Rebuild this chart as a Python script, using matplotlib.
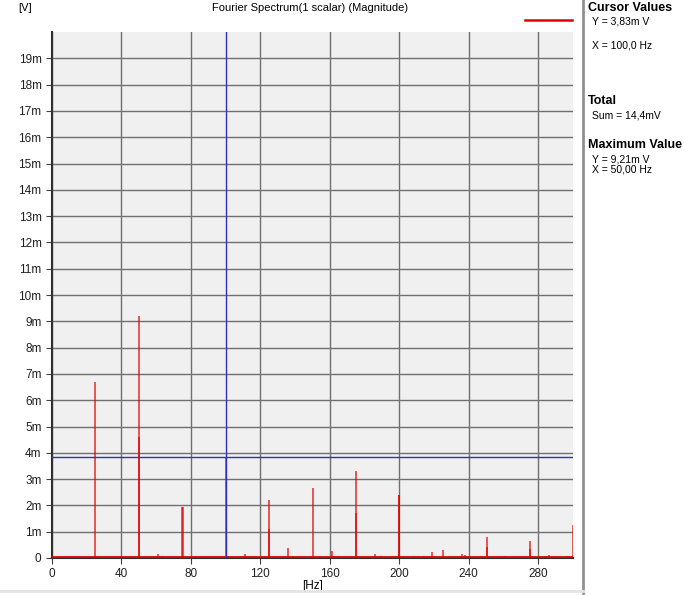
import matplotlib.pyplot as plt
from matplotlib.lines import Line2D
import numpy as np

plt.rcParams['font.family'] = ['Liberation Sans', 'DejaVu Sans']

# spectrum peaks: frequency [Hz], magnitude [mV]
freqs = [25.0, 40.0, 50.0, 50.0, 61.0, 63.5, 75.0, 75.3, 86.0, 100.0,
         111.0, 125.0, 125.0, 135.7, 139.0, 150.0, 161.0, 164.5,
         175.0, 175.0, 186.0, 189.3, 196.6, 200.0, 200.0, 208.4, 210.7,
         214.0, 218.6, 225.0, 236.0, 238.0, 247.0, 250.4, 250.4, 260.8,
         264.7, 275.0, 275.0, 286.0, 296.5, 300.0]
mags = [6.70, 0.06, 9.21, 4.60, 0.17, 0.08, 1.93, 1.93, 0.04, 3.83,
        0.15, 2.22, 1.10, 0.38, 0.07, 2.65, 0.27, 0.08,
        3.32, 1.70, 0.15, 0.06, 0.04, 2.40, 2.40, 0.06, 0.08,
        0.06, 0.23, 0.30, 0.15, 0.12, 0.06, 0.78, 0.40, 0.06,
        0.05, 0.65, 0.35, 0.12, 0.08, 1.25]

cursor_x = 100.0
cursor_y = 3.83

yticks = list(range(0, 20))
ytick_labels = ["0"] + [f"{v}m" for v in range(1, 20)]
xticks = [0, 40, 80, 120, 160, 200, 240, 280]

fig = plt.figure(figsize=(6.84, 5.96), dpi=100)
ax = fig.add_axes([52 / 684, 1 - 558 / 596, 521 / 684, 526 / 596])
ax.set_facecolor('#f0f0f0')

ax.set_xlim(0, 300)
ax.set_ylim(0, 20)
ax.set_xticks(xticks)
ax.set_yticks(yticks)
ax.set_yticklabels(ytick_labels)
ax.tick_params(labelsize=8.5, length=4, color='#404040', labelcolor='#202020')
ax.grid(True, color='#707070', linewidth=1.0)
ax.set_axisbelow(True)

for side in ['top', 'right']:
    ax.spines[side].set_visible(False)
ax.spines['left'].set_color('#303030')
ax.spines['left'].set_linewidth(1.5)
ax.spines['bottom'].set_color('#303030')
ax.spines['bottom'].set_linewidth(1.5)

# spectrum
ax.vlines(freqs, 0, mags, colors='#e00000', linewidth=1.2, alpha=0.75, zorder=3)
ax.plot([0, 300], [0.03, 0.03], color='#e00000', linewidth=2, zorder=3)

# cursor
ax.axvline(cursor_x, color='#3030c0', linewidth=1.0, zorder=4)
ax.axhline(cursor_y, color='#3030c0', linewidth=1.0, zorder=4)

ax.set_xlabel('[Hz]', fontsize=8.5, labelpad=0)
fig.text(18 / 684, 1 - 8 / 596, '[V]', fontsize=8, va='center', ha='left')
fig.text(310 / 684, 1 - 8 / 596, 'Fourier Spectrum(1 scalar) (Magnitude)',
         fontsize=8, va='center', ha='center')

# legend line
fig.add_artist(Line2D([525 / 684, 572 / 684], [1 - 20 / 596, 1 - 20 / 596],
                      color='#e00000', linewidth=1.8))

# right panel separator and bottom strip
fig.add_artist(Line2D([583 / 684, 583 / 684], [0.005, 1], color='#909090', linewidth=2))
fig.add_artist(Line2D([0, 583 / 684], [1 - 591 / 596, 1 - 591 / 596], color='#e4e4e4', linewidth=2))

panel = [
    (8, 'Cursor Values', True, 588),
    (21, 'Y = 3,83m V', False, 592),
    (46, 'X = 100,0 Hz', False, 592),
    (101, 'Total', True, 588),
    (115, 'Sum = 14,4mV', False, 592),
    (145, 'Maximum Value', True, 588),
    (159, 'Y = 9,21m V', False, 592),
    (170, 'X = 50,00 Hz', False, 592),
]
for y, txt, bold, x in panel:
    fig.text(x / 684, 1 - y / 596, txt, fontsize=9 if bold else 7.5,
             fontweight='bold' if bold else 'normal', va='center', ha='left')

fig.savefig('out.png', dpi=100)
